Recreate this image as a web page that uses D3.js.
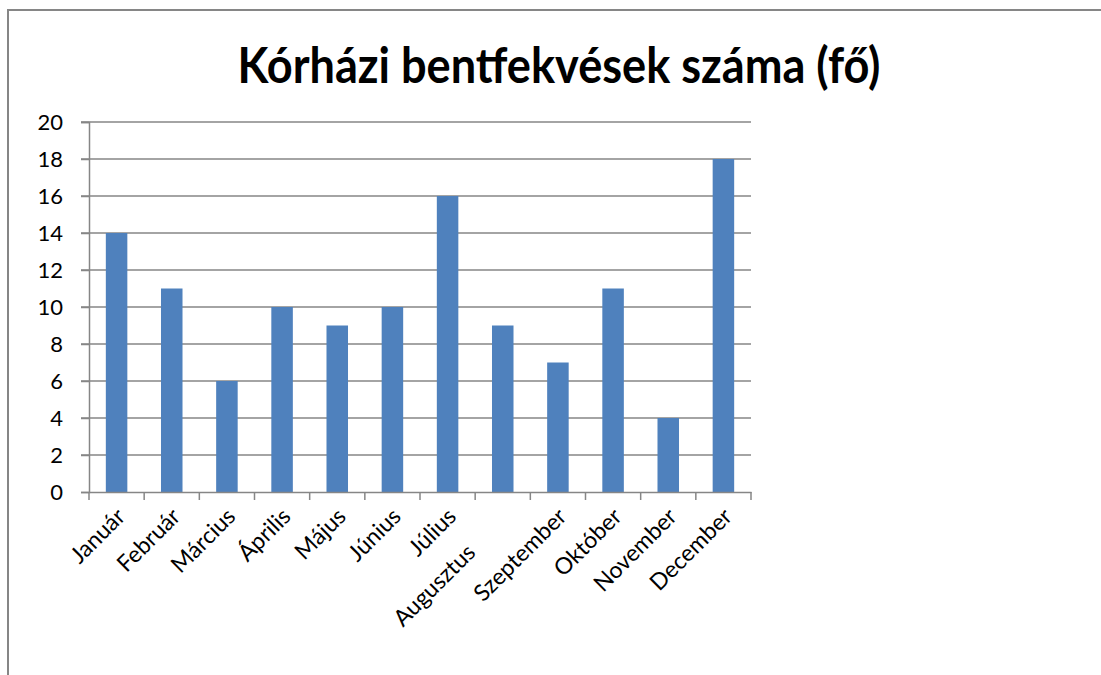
<!DOCTYPE html>
<html>
<head>
<meta charset="utf-8">
<script src="https://cdn.jsdelivr.net/npm/d3@7"></script>
<style>
  body { margin: 0; background: #fff; }
  text { font-family: Lato, "Open Sans", sans-serif; fill: #000; }
</style>
</head>
<body>
<script>
"use strict";

const title = "Kórházi bentfekvések száma (fő)";
const months = ["Január", "Február", "Március", "Április", "Május", "Június",
    "Július", "Augusztus", "Szeptember", "Október", "November", "December"];
const patients = [14, 11, 6, 10, 9, 10, 16, 9, 7, 11, 4, 18];
const yTicks = [0, 2, 4, 6, 8, 10, 12, 14, 16, 18, 20];

let svg = d3.select("body").append("svg").attr("width", 1101).attr("height", 675);

// outer chart border (runs off the right and bottom)
svg.append("rect")
    .attr("x", 8).attr("y", 10)
    .attr("width", 1200).attr("height", 800)
    .attr("fill", "none").attr("stroke", "#868686").attr("stroke-width", 2);

svg.append("text")
    .attr("x", 559).attr("y", 83)
    .attr("text-anchor", "middle")
    .attr("font-size", 50).attr("font-weight", "bold")
    .attr("textLength", 643).attr("lengthAdjust", "spacingAndGlyphs")
    .text(title);

let x = d3.scaleBand().domain(months).range([89, 751]).padding(0);
let y = d3.scaleLinear().domain([0, 20]).range([492, 122]);

// gridlines
svg.append("g")
    .selectAll("line")
    .data(yTicks.filter(d => d > 0))
    .enter()
    .append("line")
    .attr("x1", 81).attr("x2", 751)
    .attr("y1", d => y(d)).attr("y2", d => y(d))
    .attr("stroke", "#868686").attr("stroke-width", 1.5);

// bars
let barW = x.bandwidth() * 0.39;
svg.append("g")
    .selectAll("rect")
    .data(patients)
    .enter()
    .append("rect")
    .attr("x", (d, i) => x(months[i]) + x.bandwidth() / 2 - barW / 2)
    .attr("width", barW)
    .attr("y", d => y(d))
    .attr("height", d => y(0) - y(d))
    .attr("fill", "#4f81bd");

// y axis
let yAxis = svg.append("g")
    .attr("transform", "translate(89,0)")
    .call(d3.axisLeft(y).tickValues(yTicks).tickSize(8).tickPadding(18).tickFormat(d3.format("d")));
yAxis.select(".domain").attr("stroke", "#868686").attr("stroke-width", 1.5);
yAxis.selectAll(".tick line").attr("stroke", "#868686").attr("stroke-width", 1.5);
yAxis.selectAll(".tick text").attr("font-size", 22).attr("font-family", "Lato, sans-serif").attr("fill", "#000");

// x axis
let xAxis = svg.append("g")
    .attr("transform", "translate(0,492)")
    .call(d3.axisBottom(x).tickSize(0).tickFormat(""));
xAxis.select(".domain").attr("stroke", "#868686").attr("stroke-width", 1.5);

let edges = months.map(m => x(m)).concat([x.range()[1]]);
xAxis.append("g")
    .selectAll("line")
    .data(edges)
    .enter()
    .append("line")
    .attr("x1", d => d).attr("x2", d => d)
    .attr("y1", 0).attr("y2", 8)
    .attr("stroke", "#868686").attr("stroke-width", 1.5);

// rotated month labels; the long one gets pushed back along its baseline like in the original
svg.append("g")
    .selectAll("text")
    .data(months)
    .enter()
    .append("text")
    .attr("text-anchor", "end")
    .attr("font-size", 23)
    .attr("transform", d => {
        let cx = x(d) + x.bandwidth() / 2 + 10;
        let cy = 518;
        if (d === "Augusztus") { cx -= 36; cy += 36; }
        return `translate(${cx},${cy}) rotate(-45)`;
    })
    .text(d => d);
</script>
</body>
</html>
